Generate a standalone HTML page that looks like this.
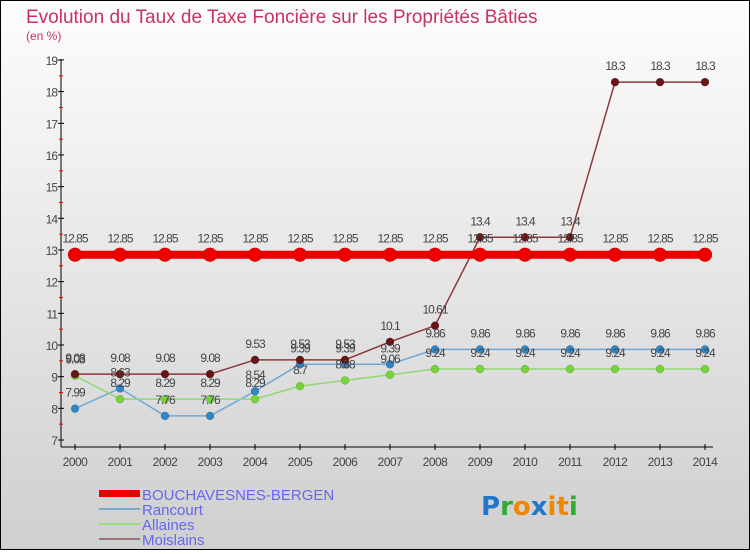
<!DOCTYPE html>
<html><head><meta charset="utf-8"><style>
html,body{margin:0;padding:0}
body{width:750px;height:550px;overflow:hidden;font-family:"Liberation Sans",sans-serif}
#wrap{position:relative;width:748px;height:548px;border:1px solid #000;background:linear-gradient(#fdfdfd,#cfcfcf)}
</style></head><body>
<div id="wrap">
<svg id="chart" width="748" height="548" xmlns="http://www.w3.org/2000/svg">
<text x="25" y="22" font-size="19" fill="#c8325e">Evolution du Taux de Taxe Foncière sur les Propriétés Bâties</text>
<text x="25" y="39" font-size="12" fill="#c8325e">(en %)</text>
<g id="axes"></g><g id="series"></g><g id="labels"></g>
<g>
<rect x="98" y="489" width="41" height="7" fill="#ee0000"/>
<text x="141" y="499" font-size="15" fill="#6666ee">BOUCHAVESNES-BERGEN</text>
<rect x="98" y="507" width="41" height="2" fill="#7fa9cc"/>
<text x="141" y="514" font-size="15" fill="#6666ee">Rancourt</text>
<rect x="98" y="522" width="41" height="2" fill="#99dd77"/>
<text x="141" y="529" font-size="15" fill="#6666ee">Allaines</text>
<rect x="98" y="537" width="41" height="2" fill="#997777"/>
<text x="141" y="544" font-size="15" fill="#6666ee">Moislains</text>
</g>
<text x="480" y="514" font-size="26" font-weight="bold" font-family="'DejaVu Sans',sans-serif"><tspan fill="#2277cc">P</tspan><tspan fill="#33aa33">r</tspan><tspan fill="#ee8800">o</tspan><tspan fill="#2277cc">x</tspan><tspan fill="#ee8800">i</tspan><tspan fill="#ee8800">t</tspan><tspan fill="#33aa33">i</tspan></text>
</svg></div>
<script>
const years=[2000,2001,2002,2003,2004,2005,2006,2007,2008,2009,2010,2011,2012,2013,2014];
const bouchavesnes=[12.85,12.85,12.85,12.85,12.85,12.85,12.85,12.85,12.85,12.85,12.85,12.85,12.85,12.85,12.85];
const rancourt=[7.99,8.63,7.76,7.76,8.54,9.39,9.39,9.39,9.86,9.86,9.86,9.86,9.86,9.86,9.86];
const allaines=[9.03,8.29,8.29,8.29,8.29,8.7,8.88,9.06,9.24,9.24,9.24,9.24,9.24,9.24,9.24];
const moislains=[9.08,9.08,9.08,9.08,9.53,9.53,9.53,10.1,10.61,13.4,13.4,13.4,18.3,18.3,18.3];
const yTicks=[7,8,9,10,11,12,13,14,15,16,17,18,19];
const NS="http://www.w3.org/2000/svg";
const x=i=>74+i*45, y=v=>439-(v-7)*31.67;
function mk(tag,attrs,parent){const e=document.createElementNS(NS,tag);for(const k in attrs)e.setAttribute(k,attrs[k]);parent.appendChild(e);return e;}
const ax=document.getElementById('axes'),se=document.getElementById('series'),lb=document.getElementById('labels');
let l=mk('line',{x1:60,y1:58,x2:60,y2:446,stroke:'#000','stroke-width':1},ax);


l=mk('line',{x1:60,y1:446,x2:712,y2:446,stroke:'#000','stroke-width':1},ax);


yTicks.forEach(v=>{
 mk('line',{x1:57,y1:y(v),x2:63,y2:y(v),stroke:'#000'},ax);
 if(v<19) mk('line',{x1:58,y1:y(v+0.5),x2:62,y2:y(v+0.5),stroke:'#e00'},ax);
 const t=mk('text',{x:56,y:y(v)+5,'font-size':12,fill:'#444','text-anchor':'end','letter-spacing':'-1'},ax);t.textContent=v;
 
 
});
years.forEach((yr,i)=>{
 mk('line',{x1:x(i),y1:443,x2:x(i),y2:449,stroke:'#000'},ax);
 const t=mk('text',{x:x(i),y:465,'font-size':12,fill:'#444','text-anchor':'middle','letter-spacing':'-0.5'},ax);t.textContent=yr;
 
 
});
function series(vals,color,lw,r,name,dotColor){
 const pts=vals.map((v,i)=>x(i)+','+y(v)).join(' ');
 const p=mk('polyline',{points:pts,fill:'none',stroke:color,'stroke-width':lw},se);
 
 
 vals.forEach((v,i)=>{
  const c=mk('circle',{cx:x(i),cy:y(v),r:r,fill:dotColor,stroke:'rgba(0,0,0,0.25)','stroke-width':0.5},se);
  
  
  const t=mk('text',{x:x(i),y:y(v)-12,'font-size':12,fill:'#444','text-anchor':'middle','letter-spacing':'-1'},lb);t.textContent=v;
  
  
 });
}
series(rancourt,'#6fa7d6',1.5,4,'rancourt','#2f86c6');
series(allaines,'#90d870',1.5,4,'allaines','#77d43a');
series(moislains,'#8a3a3a',1.5,4,'moislains','#6a1515');
series(bouchavesnes,'#ee0000',8,7,'bouchavesnes','#ee0000');
</script>
</body></html>
